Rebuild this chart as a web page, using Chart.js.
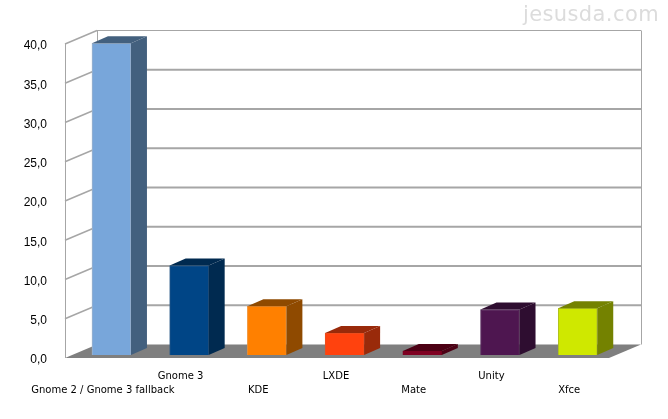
<!DOCTYPE html>
<html lang="en">
<head>
    <meta charset="UTF-8">
    <title>jesusda.com</title>
    <style>
        body { margin: 0; background: #fff; position: relative; width: 668px; height: 419px; overflow: hidden; }
        canvas { position: absolute; left: 0; top: 0; }
        #mark { position: absolute; right: 9px; top: 2px; font: 21px 'DejaVu Sans', sans-serif; letter-spacing: 0.4px; color: #dcdcdc; }
    </style>
    <script src="https://cdn.jsdelivr.net/npm/chart.js"></script>
</head>
<body>
    <canvas id="chart" width="668" height="419"></canvas>
    <div id="mark">jesusda.com</div>
    <script>
        const categories = ['Gnome 2 / Gnome 3 fallback', 'Gnome 3', 'KDE', 'LXDE', 'Mate', 'Unity', 'Xfce'];
        const values = [39.7, 11.4, 6.2, 2.8, 0.5, 5.8, 5.95];
        const frontColors = ['#78a6da', '#004586', '#ff8000', '#ff420e', '#7e0021', '#4e1650', '#cfe800'];
        const sideColors = ['#43607e', '#002a50', '#8f4a00', '#992a0a', '#4c0014', '#2e0d30', '#748200'];
        const borderColors = ['#9fb4cc', '#2a5a88', '#f09030', '#e85020', '#7e0021', '#5a3060', '#b0c020'];

        // depth of the box and of the bars
        const wallDx = 32, wallDy = -13.5;
        const barDx = 16, barDy = -7;
        const planeDy = 3 / 7.85; // bars stand a bit inside the floor

        const box3d = {
            id: 'box3d',
            beforeDatasetsDraw(chart) {
                const { ctx, scales } = chart;
                const y = scales.y, x = scales.x;
                const left = x.left, right = x.right, bottom = y.bottom;
                ctx.save();
                // floor
                ctx.fillStyle = '#7f7f7f';
                ctx.beginPath();
                ctx.moveTo(left, bottom);
                ctx.lineTo(right, bottom);
                ctx.lineTo(right + wallDx, bottom + wallDy);
                ctx.lineTo(left + wallDx, bottom + wallDy);
                ctx.closePath();
                ctx.fill();
                // grid on back and left wall
                ctx.strokeStyle = '#a6a6a6';
                y.ticks.forEach(t => {
                    if (t.value === 0) return;
                    const py = y.getPixelForValue(t.value);
                    ctx.lineWidth = 1.5;
                    ctx.beginPath();
                    ctx.moveTo(left, py);
                    ctx.lineTo(left + wallDx, py + wallDy);
                    ctx.stroke();
                    ctx.lineWidth = t.value === y.max ? 1.2 : 2;
                    ctx.beginPath();
                    ctx.moveTo(left + wallDx, py + wallDy);
                    ctx.lineTo(right + wallDx, py + wallDy);
                    ctx.stroke();
                });
                ctx.lineWidth = 1;
                ctx.beginPath();
                ctx.moveTo(left + 0.5, y.top);
                ctx.lineTo(left + 0.5, bottom);
                ctx.moveTo(left + wallDx + 0.5, y.top + wallDy);
                ctx.lineTo(left + wallDx + 0.5, bottom + wallDy);
                ctx.moveTo(right + wallDx + 0.5, y.top + wallDy);
                ctx.lineTo(right + wallDx + 0.5, bottom + wallDy);
                ctx.stroke();
                ctx.restore();
            },
            afterDatasetsDraw(chart) {
                const { ctx } = chart;
                const bars = chart.getDatasetMeta(0).data;
                ctx.save();
                bars.forEach((bar, i) => {
                    const p = bar.getProps(['x', 'y', 'base', 'width']);
                    const l = p.x - p.width / 2, r = p.x + p.width / 2;
                    ctx.fillStyle = sideColors[i];
                    // top face
                    ctx.beginPath();
                    ctx.moveTo(l, p.y);
                    ctx.lineTo(l + barDx, p.y + barDy);
                    ctx.lineTo(r + barDx, p.y + barDy);
                    ctx.lineTo(r, p.y);
                    ctx.closePath();
                    ctx.fill();
                    // side face
                    ctx.beginPath();
                    ctx.moveTo(r, p.y);
                    ctx.lineTo(r + barDx, p.y + barDy);
                    ctx.lineTo(r + barDx, p.base + barDy);
                    ctx.lineTo(r, p.base);
                    ctx.closePath();
                    ctx.fill();
                });
                ctx.restore();
            }
        };

        new Chart(document.getElementById('chart'), {
            type: 'bar',
            data: {
                labels: categories,
                datasets: [{
                    data: values.map((v, i) => ({ x: i, y: v })),
                    xAxisID: 'xBar',
                    yAxisID: 'yBar',
                    backgroundColor: frontColors,
                    borderColor: borderColors,
                    borderWidth: 1,
                    barThickness: 39,
                    clip: false
                }]
            },
            plugins: [box3d],
            options: {
                responsive: false,
                animation: false,
                layout: { padding: { top: 44, right: 59, left: 0, bottom: 0 } },
                plugins: { legend: { display: false }, tooltip: { enabled: false } },
                scales: {
                    x: {
                        type: 'category',
                        grid: { display: false },
                        border: { display: false },
                        afterFit: s => { s.height = 61; },
                        ticks: {
                            autoSkip: false,
                            maxRotation: 0,
                            minRotation: 0,
                            padding: 3,
                            labelOffset: -1,
                            color: '#000',
                            font: { family: 'DejaVu Sans', size: 10, lineHeight: 1.4 },
                            callback(v, i) {
                                return i % 2 ? [categories[i], ''] : ['', categories[i]];
                            }
                        }
                    },
                    y: {
                        min: 0,
                        max: 40,
                        grid: { display: false },
                        border: { display: false },
                        afterFit: s => { s.width = 65; },
                        ticks: {
                            stepSize: 5,
                            padding: 10,
                            labelOffset: 2,
                            color: '#000',
                            font: { family: 'Liberation Sans', size: 12 },
                            callback: v => v.toFixed(1).replace('.', ',')
                        }
                    },
                    xBar: { type: 'linear', display: false, offset: false, min: -0.5 - 7.6 / 77.7, max: 6.5 - 7.6 / 77.7 },
                    yBar: { display: false, min: -planeDy, max: 40 - planeDy }
                }
            }
        });
    </script>
</body>
</html>
